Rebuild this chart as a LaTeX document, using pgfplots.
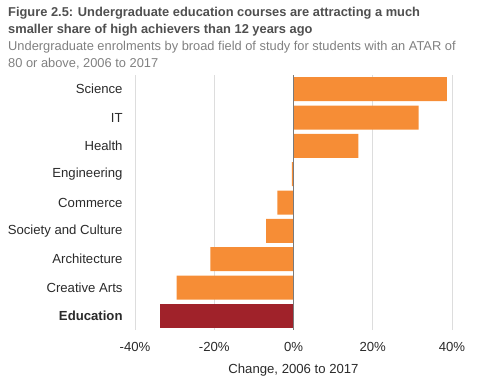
\documentclass[border=0pt]{standalone}
\usepackage{pgfplots}
\pgfplotsset{compat=1.18}
\usepackage{fontspec}
\setmainfont{Liberation Sans}
\definecolor{barorange}{HTML}{F68D36}
\definecolor{barred}{HTML}{A0222A}
\definecolor{gridgray}{HTML}{DDDDDD}
\definecolor{zerogray}{HTML}{7A7A7A}
\definecolor{titlegray}{HTML}{4F4F4F}
\definecolor{subgray}{HTML}{808080}
\definecolor{labelgray}{HTML}{2A2A2A}
\begin{document}
\begin{tikzpicture}[x=1bp,y=1bp]
\path[use as bounding box] (0,0) rectangle (493,380);
\node[anchor=base west, inner sep=0, text=titlegray, font=\bfseries\fontsize{12.9}{15}\selectfont] at (8,363.5) {Figure 2.5: Undergraduate education courses are attracting a much};
\node[anchor=base west, inner sep=0, text=titlegray, font=\bfseries\fontsize{12.9}{15}\selectfont] at (8,346.5) {smaller share of high achievers than 12 years ago};
\node[anchor=base west, inner sep=0, text=subgray, font=\fontsize{12.9}{15}\selectfont] at (8,329.5) {Undergraduate enrolments by broad field of study for students with an ATAR of};
\node[anchor=base west, inner sep=0, text=subgray, font=\fontsize{12.9}{15}\selectfont] at (8,313) {80 or above, 2006 to 2017};
\begin{axis}[
  at={(135bp,50bp)}, anchor=south west,
  scale only axis, width=317bp, height=255bp,
  xmin=-40, xmax=40, ymin=-0.5, ymax=8.5,
  y dir=reverse,
  xbar, bar width=24bp, bar shift=0pt,
  axis line style={draw=none},
  tick style={draw=none},
  xmajorgrids, major grid style={gridgray, line width=1bp},
  xtick={-40,-20,0,20,40},
  xticklabels={-40\%,-20\%,0\%,20\%,40\%},
  ytick={0,1,2,3,4,5,6,7,8},
  yticklabels={Science,IT,Health,Engineering,Commerce,Society and Culture,Architecture,Creative Arts,\textbf{Education}},
  ticklabel style={font=\fontsize{13.2}{15}\selectfont, text=labelgray},
  yticklabel style={anchor=east, inner sep=0pt, xshift=-8bp},
  xticklabel style={anchor=north, inner sep=0pt, yshift=-12bp},
  xlabel={Change, 2006 to 2017},
  xlabel style={at={(axis description cs:0.5,0)}, anchor=north, inner sep=0pt, yshift=-34bp, font=\fontsize{13.2}{15}\selectfont, text=labelgray},
  clip=false,
]
\addplot[fill=barorange, draw=none] coordinates {
(38.7,0) (31.6,1) (16.4,2) (-0.4,3) (-4.1,4) (-6.9,5) (-21.0,6) (-29.5,7)};
\addplot[fill=barred, draw=none] coordinates {(-33.7,8)};
\draw[zerogray, line width=1.3bp] (axis cs:0,-0.5) -- (axis cs:0,8.5);
\end{axis}
\end{tikzpicture}
\end{document}
